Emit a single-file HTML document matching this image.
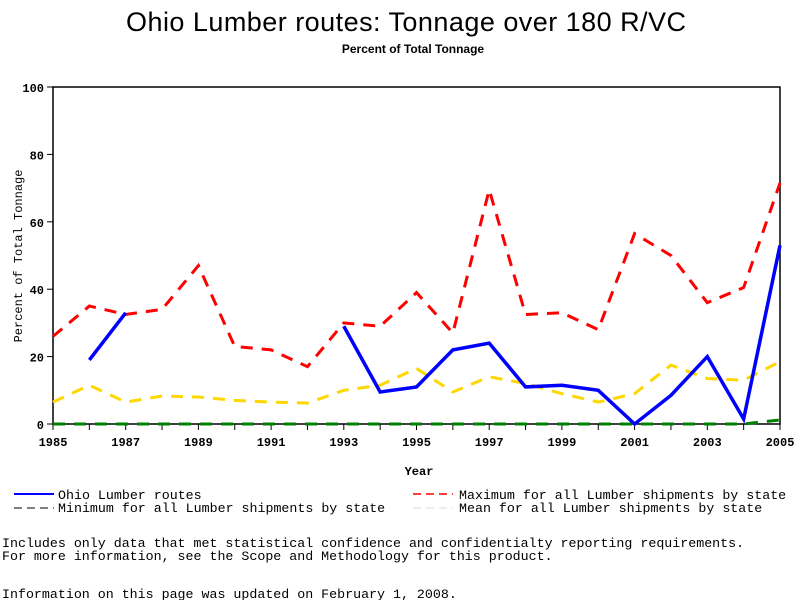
<!DOCTYPE html>
<html><head><meta charset="utf-8"><style>
body{margin:0;background:#fff;}
svg text{font-family:"Liberation Mono",monospace;}
</style></head><body>
<svg width="800" height="600" xmlns="http://www.w3.org/2000/svg">
<text x="406" y="31" text-anchor="middle" font-size="27" textLength="560" style="font-family:'Liberation Sans',sans-serif">Ohio Lumber routes: Tonnage over 180 R/VC</text>
<text x="413" y="53" text-anchor="middle" font-size="12" font-weight="bold" style="font-family:'Liberation Sans',sans-serif">Percent of Total Tonnage</text>
<rect x="53" y="87" width="727" height="337" fill="none" stroke="#000" stroke-width="1.5"/>
<g id="axes"></g>
<g id="series"></g>
<text x="419" y="475" text-anchor="middle" font-size="12" font-weight="bold">Year</text>
<text transform="translate(22,256) rotate(-90)" text-anchor="middle" font-size="12">Percent of Total Tonnage</text>
<g font-size="13.3">
<line x1="14" y1="494" x2="54" y2="494" stroke="#00f" stroke-width="2"/>
<text x="58" y="499">Ohio Lumber routes</text>
<line x1="14" y1="508" x2="54" y2="508" stroke="#000" stroke-dasharray="8,5"/>
<text x="58" y="512">Minimum for all Lumber shipments by state</text>
<line x1="413" y1="494" x2="453" y2="494" stroke="#f00" stroke-width="1.5" stroke-dasharray="8,5"/>
<text x="459" y="499">Maximum for all Lumber shipments by state</text>
<line x1="413" y1="508" x2="453" y2="508" stroke="#ddd" stroke-dasharray="8,5"/>
<text x="459" y="512">Mean for all Lumber shipments by state</text>
</g>
<text x="2" y="547" font-size="13.3">Includes only data that met statistical confidence and confidentialty reporting requirements.</text>
<text x="2" y="560" font-size="13.3">For more information, see the Scope and Methodology for this product.</text>
<text x="2" y="598" font-size="13.3">Information on this page was updated on February 1, 2008.</text>
</svg>
<script>
const years=[1985,1986,1987,1988,1989,1990,1991,1992,1993,1994,1995,1996,1997,1998,1999,2000,2001,2002,2003,2004,2005];
const ohio=[null,19,33,null,null,null,null,null,29,9.5,11,22,24,11,11.5,10,0,8.5,20,1.5,53];
const maxV=[26,35,32.5,34,47,23,22,17,30,29,39,27,69.5,32.5,33,28,56.5,50,36,40.5,71.5];
const meanV=[6.5,11.5,6.5,8.3,8,7,6.5,6.2,10,11.5,16.5,9.5,14,12,9,6.5,9,17.5,13.5,13,18.5];
const minV=[0,0,0,0,0,0,0,0,0,0,0,0,0,0,0,0,0,0,0,0,1.2];
const yTicks=[0,20,40,60,80,100];
const xTicks=[1985,1987,1989,1991,1993,1995,1997,1999,2001,2003,2005];
const NS="http://www.w3.org/2000/svg";
const X=y=>53+(y-1985)*727/20, Y=v=>424-v*3.37;
const ax=document.getElementById('axes'), se=document.getElementById('series');
function mk(tag,at,parent){const e=document.createElementNS(NS,tag);for(const k in at)e.setAttribute(k,at[k]);parent.appendChild(e);return e;}
yTicks.forEach(t=>{
 const l=mk('line',{x1:47,x2:53,y1:Y(t),y2:Y(t),stroke:'#000'},ax);
 
 
 const tx=mk('text',{x:44,y:Y(t)+5,'text-anchor':'end','font-size':12,'font-weight':'bold'},ax);tx.textContent=t;
 
 
});
years.forEach(yr=>{
 const l=mk('line',{x1:X(yr),x2:X(yr),y1:424,y2:430,stroke:'#000'},ax);
 
 
});
xTicks.forEach(yr=>{
 const tx=mk('text',{x:X(yr),y:446,'text-anchor':'middle','font-size':12,'font-weight':'bold'},ax);tx.textContent=yr;
 
 
});
function line(vals,style,name){
 let segs=[],cur=[];
 vals.forEach((v,i)=>{if(v==null){if(cur.length)segs.push(cur);cur=[];}else cur.push(X(years[i])+','+Y(v));});
 if(cur.length)segs.push(cur);
 segs.forEach(s=>{const p=mk('polyline',Object.assign({points:s.join(' '),fill:'none'},style),se);
  
  });
}
line(minV,{stroke:'#008000','stroke-width':3,'stroke-dasharray':'12,9'},'min-line');
line(meanV,{stroke:'#ffd700','stroke-width':3,'stroke-dasharray':'12,9'},'mean-line');
line(maxV,{stroke:'#f00','stroke-width':3,'stroke-dasharray':'12,9'},'max-line');
line(ohio,{stroke:'#00f','stroke-width':3.5},'ohio-line');
</script>
</body></html>
